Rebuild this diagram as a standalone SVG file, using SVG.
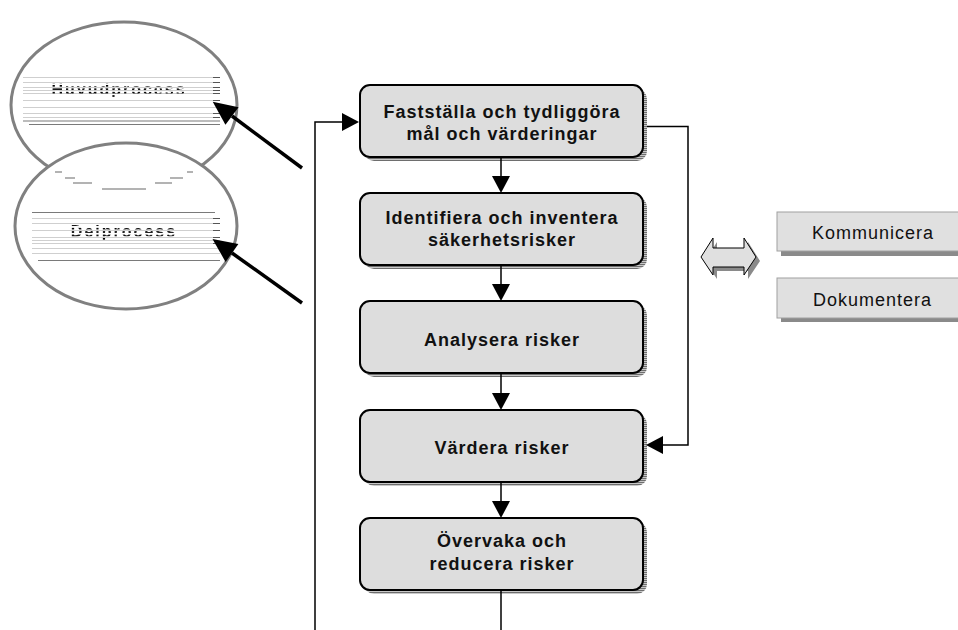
<svg xmlns="http://www.w3.org/2000/svg" width="958" height="630" viewBox="0 0 958 630">
  <style>
    .step { fill: #dddddd; stroke: #000; stroke-width: 2; }
    .step-shadow { fill: url(#hatch); }
    .step-label { font-family: "Liberation Sans", Arial, sans-serif; font-size: 18px; font-weight: bold; fill: #111; text-anchor: middle; letter-spacing: 1px; }
    .side-box { fill: #e0e0e0; stroke: #a0a0a0; stroke-width: 1; }
    .side-shadow { fill: #8a8a8a; }
    .side-label { font-family: "Liberation Sans", Arial, sans-serif; font-size: 18px; fill: #111; letter-spacing: 1px; }
    .bubble { fill: #fff; stroke: #808080; stroke-width: 3; }
    .rule { stroke: #cfcfcf; stroke-width: 1; }
    .rule-dark { stroke: #7a7a7a; stroke-width: 1.2; }
    .tick { stroke: #555; stroke-width: 1.2; }
    .bubble-label { font-family: "Liberation Sans", Arial, sans-serif; font-size: 16px; font-weight: bold; fill: #000; text-anchor: middle; letter-spacing: 2px; }
    .flow { fill: none; stroke: #000; stroke-width: 1.5; }
    .pointer { fill: none; stroke: #000; stroke-width: 3.5; }
    .remnant { stroke: #9a9a9a; stroke-width: 1.3; }
  </style>
  <defs>
    <pattern id="hatch" patternUnits="userSpaceOnUse" width="4" height="2">
      <rect width="4" height="2" fill="#c8c8c8"/>
      <rect width="4" height="1" fill="#6e6e6e"/>
    </pattern>
    <pattern id="scan" patternUnits="userSpaceOnUse" width="10" height="3.4">
      <rect width="10" height="1.6" fill="#fff"/>
    </pattern>
    <mask id="scanMask" maskUnits="userSpaceOnUse" x="0" y="0" width="958" height="630">
      <rect width="958" height="630" fill="url(#scan)"/>
    </mask>
    <marker id="head" markerUnits="userSpaceOnUse" markerWidth="18" markerHeight="18" refX="0" refY="9" orient="auto" overflow="visible">
      <path d="M0,0 L17,9 L0,18 Z" fill="#000"/>
    </marker>
    <marker id="bigHead" markerUnits="userSpaceOnUse" markerWidth="24" markerHeight="22" refX="0" refY="11" orient="auto" overflow="visible">
      <path d="M0,0 L24,11 L0,22 Z" fill="#000"/>
    </marker>
  </defs>

  <rect width="958" height="630" fill="#fff"/>

  <!-- upper bubble -->
  <g id="bubble-main">
    <ellipse class="bubble" cx="124" cy="105" rx="113" ry="83"/>
    <line class="rule" x1="23" y1="77.5" x2="220" y2="77.5"/>
    <line class="rule" x1="23" y1="82.5" x2="220" y2="82.5"/>
    <line class="rule" x1="23" y1="87.5" x2="220" y2="87.5"/>
    <line class="rule" x1="23" y1="90.5" x2="220" y2="90.5"/>
    <line class="rule" x1="23" y1="93.5" x2="220" y2="93.5"/>
    <line class="rule" x1="23" y1="100.5" x2="220" y2="100.5"/>
    <line class="rule" x1="23" y1="107.5" x2="220" y2="107.5"/>
    <line class="rule" x1="23" y1="113.5" x2="220" y2="113.5"/>
    <line class="rule" x1="23" y1="117.5" x2="220" y2="117.5"/>
    <line class="rule-dark" x1="23" y1="121" x2="220" y2="121"/>
    <line class="rule-dark" x1="29" y1="124.5" x2="220" y2="124.5"/>
    <path class="tick" d="M213,77.5h7M213,82.5h7M213,87.5h7M213,90.5h7M213,93.5h7M213,100.5h7M213,113.5h7M213,117.5h7"/>
    <text class="bubble-label" x="119" y="95" mask="url(#scanMask)">Huvudprocess</text>
  </g>

  <!-- lower bubble -->
  <g id="bubble-sub">
    <ellipse class="bubble" cx="126" cy="226" rx="111" ry="83"/>
    <path class="remnant" d="M55,172h7M65,178h10M73,183h19M102,189h44M155,183h17M170,178h13M187,172h6"/>
    <line class="rule-dark" x1="32" y1="212.5" x2="215" y2="212.5"/>
    <line class="rule" x1="32" y1="218.5" x2="220" y2="218.5"/>
    <line class="rule" x1="32" y1="223.5" x2="220" y2="223.5"/>
    <line class="rule" x1="32" y1="230.5" x2="220" y2="230.5"/>
    <line class="rule" x1="32" y1="237.5" x2="220" y2="237.5"/>
    <line class="rule" x1="32" y1="240.5" x2="220" y2="240.5"/>
    <line class="rule" x1="32" y1="243.5" x2="220" y2="243.5"/>
    <line class="rule" x1="32" y1="248.5" x2="220" y2="248.5"/>
    <line class="rule" x1="32" y1="253.5" x2="220" y2="253.5"/>
    <line class="rule-dark" x1="38" y1="260.5" x2="220" y2="260.5"/>
    <path class="tick" d="M213,218.5h7M213,223.5h7M213,230.5h7M213,237.5h7M213,243.5h7"/>
    <text class="bubble-label" x="124" y="237" mask="url(#scanMask)">Delprocess</text>
  </g>

  <!-- process steps -->
  <g id="step-1">
    <rect class="step-shadow" x="364" y="89" width="283" height="72" rx="10"/>
    <rect class="step" x="360" y="85" width="283" height="72" rx="10"/>
    <text class="step-label" x="502" y="117.5">Fastställa och tydliggöra</text>
    <text class="step-label" x="502" y="140">mål och värderingar</text>
  </g>
  <g id="step-2">
    <rect class="step-shadow" x="364" y="197" width="283" height="72" rx="10"/>
    <rect class="step" x="360" y="193" width="283" height="72" rx="10"/>
    <text class="step-label" x="502" y="223.5">Identifiera och inventera</text>
    <text class="step-label" x="502" y="246">säkerhetsrisker</text>
  </g>
  <g id="step-3">
    <rect class="step-shadow" x="364" y="305" width="283" height="72" rx="10"/>
    <rect class="step" x="360" y="301" width="283" height="72" rx="10"/>
    <text class="step-label" x="502" y="345.5">Analysera risker</text>
  </g>
  <g id="step-4">
    <rect class="step-shadow" x="364" y="414" width="283" height="72" rx="10"/>
    <rect class="step" x="360" y="410" width="283" height="72" rx="10"/>
    <text class="step-label" x="502" y="454">Värdera risker</text>
  </g>
  <g id="step-5">
    <rect class="step-shadow" x="364" y="522" width="283" height="72" rx="10"/>
    <rect class="step" x="360" y="518" width="283" height="72" rx="10"/>
    <text class="step-label" x="502" y="547">Övervaka och</text>
    <text class="step-label" x="502" y="569.5">reducera risker</text>
  </g>

  <!-- side activities -->
  <g id="exchange">
    <polygon points="705,261 717,242 717,252 748,252 748,242 760,261 748,279 748,271 717,271 717,279" fill="#8a8a8a"/>
    <polygon points="701,257 713,238 713,248 744,248 744,238 756,257 744,275 744,267 713,267 713,275" fill="#e0e0e0" stroke="#000" stroke-width="1"/>
  </g>
  <g id="kommunicera">
    <rect class="side-shadow" x="781" y="216" width="190" height="40"/>
    <rect class="side-box" x="777" y="212" width="190" height="39"/>
    <text class="side-label" x="812" y="239">Kommunicera</text>
  </g>
  <g id="dokumentera">
    <rect class="side-shadow" x="781" y="282" width="190" height="40"/>
    <rect class="side-box" x="777" y="278" width="190" height="40"/>
    <text class="side-label" x="813" y="305.5">Dokumentera</text>
  </g>

  <!-- connectors -->
  <g id="connectors">
    <line class="flow" x1="501" y1="157" x2="501" y2="176" marker-end="url(#head)"/>
    <line class="flow" x1="501" y1="265" x2="501" y2="284" marker-end="url(#head)"/>
    <line class="flow" x1="501" y1="373" x2="501" y2="393" marker-end="url(#head)"/>
    <line class="flow" x1="501" y1="482" x2="501" y2="501" marker-end="url(#head)"/>
    <line class="flow" x1="501" y1="590" x2="501" y2="630"/>
    <polyline class="flow" points="315,630 315,122 342,122" marker-end="url(#head)"/>
    <polyline class="flow" points="647,126.5 688,126.5 688,445 663,445" marker-end="url(#head)"/>
    <line class="pointer" x1="302" y1="168" x2="232" y2="116" marker-end="url(#bigHead)"/>
    <line class="pointer" x1="302" y1="303" x2="232" y2="253" marker-end="url(#bigHead)"/>
  </g>
</svg>
